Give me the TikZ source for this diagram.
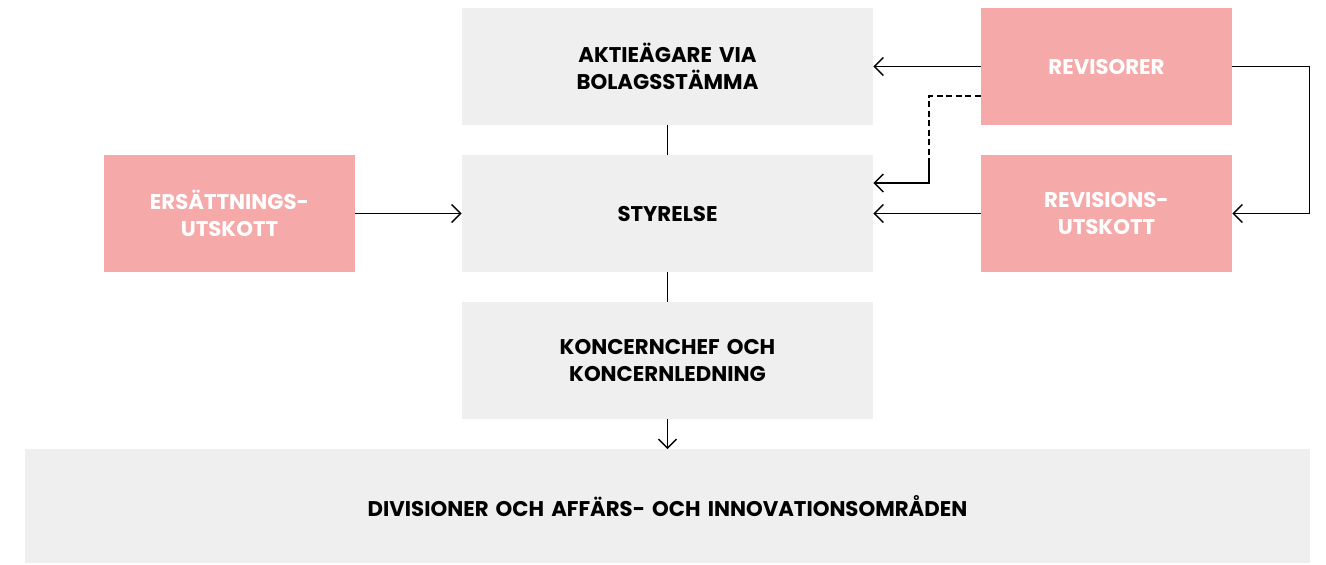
\documentclass[tikz,border=0pt]{standalone}
\usepackage{fontspec}
\setmainfont{Poppins}
\usetikzlibrary{arrows.meta}
\definecolor{boxgray}{HTML}{EFEFEF}
\definecolor{boxpink}{HTML}{F5A9A9}
\begin{document}
\begin{tikzpicture}

% definitions
\tikzstyle{mainbox} = [rectangle, minimum width=8.18cm, minimum height=2.34cm, outer sep=0pt, text centered, fill=boxgray, text width=8cm, font=\fontsize{12.1}{15.3}\selectfont\bfseries]

\tikzstyle{sidebox} = [rectangle, minimum width=4.98cm, minimum height=2.34cm, outer sep=0pt, text centered, fill=boxpink, text=white, text width=4.8cm, font=\fontsize{12.1}{15.3}\selectfont\bfseries]

\tikzstyle{widebox} = [rectangle, minimum width=25.7cm, minimum height=2.28cm, outer sep=0pt, text centered, fill=boxgray, text width=25cm, font=\fontsize{12.1}{15.3}\selectfont\bfseries]

\tikzstyle{arrow} = [-{Straight Barb[length=0.18cm, width=0.36cm]}, line width=0.8pt]
\tikzstyle{link} = [line width=0.8pt]

\useasboundingbox (0,0) rectangle (26.52,-11.28);

% the graph
\node (aktie) [mainbox] at (13.35,-1.33) {AKTIEÄGARE VIA\\BOLAGSSTÄMMA};

\node (styrelse) [mainbox] at (13.35,-4.27) {STYRELSE};

\node (koncern) [mainbox] at (13.35,-7.21) {KONCERNCHEF OCH\\KONCERNLEDNING};

\node (division) [widebox] at (13.35,-10.12) {DIVISIONER OCH AFFÄRS- OCH INNOVATIONSOMRÅDEN};

\node (ersattning) [sidebox] at (4.59,-4.27) {ERSÄTTNINGS-\\UTSKOTT};

\node (revisorer) [sidebox] at (22.13,-1.33) {REVISORER};

\node (revutskott) [sidebox] at (22.13,-4.27) {REVISIONS-\\UTSKOTT};

\coordinate (knee) at (18.58,-3.2);

\draw [link] (aktie) -- (styrelse);
\draw [link] (styrelse) -- (koncern);
\draw [arrow] (koncern) -- (division);
\draw [arrow] (ersattning) -- (styrelse);
\draw [arrow] (revisorer) -- (aktie);
\draw [arrow] (revutskott) -- (styrelse);
\draw [link, dash pattern=on 3.4pt off 2pt] ([yshift=-0.59cm]revisorer.west) -| (knee);
\draw [arrow] (knee) |- ([yshift=0.61cm]styrelse.east);
\draw [arrow] (revisorer.east) -- ++(1.54,0) |- (revutskott.east);

\end{tikzpicture}
\end{document}
